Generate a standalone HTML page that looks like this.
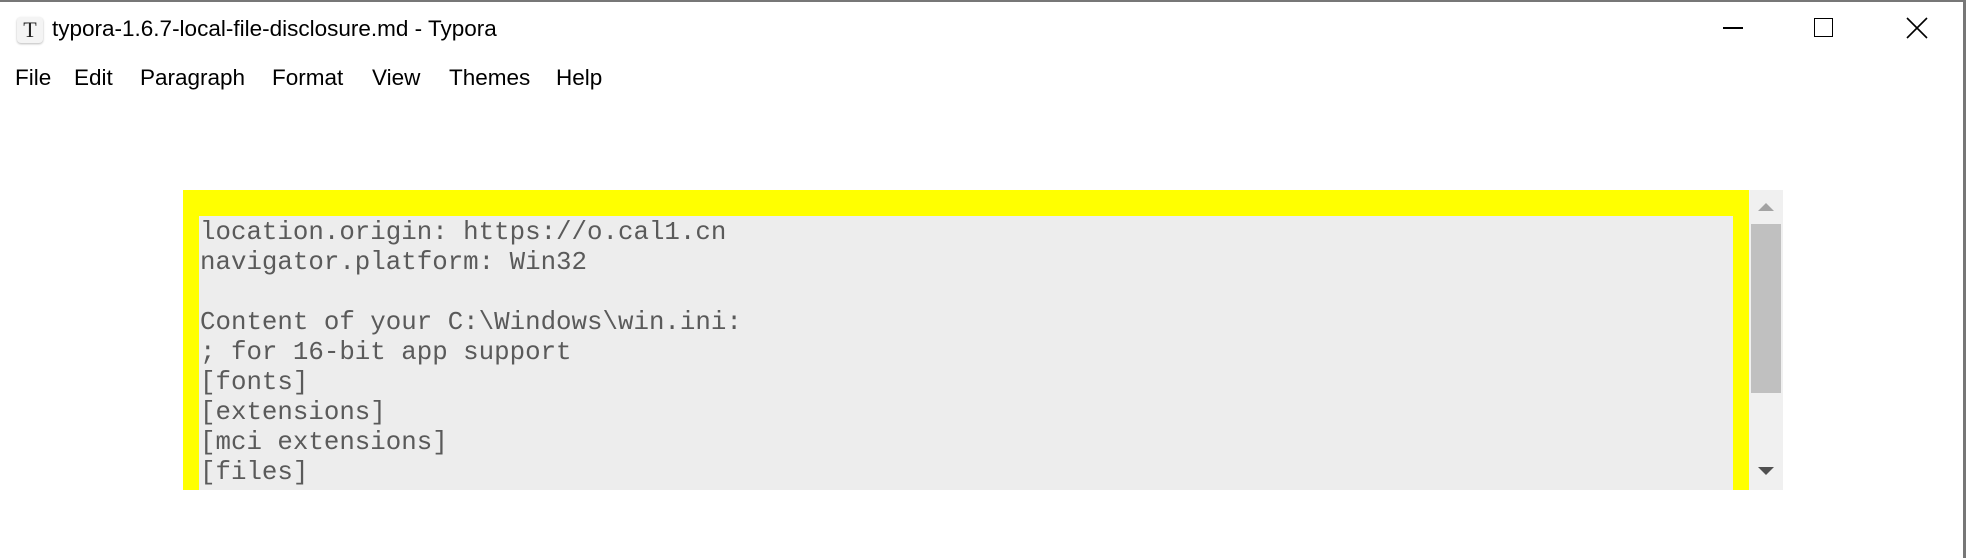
<!DOCTYPE html>
<html><head><meta charset="utf-8"><style>
html,body{margin:0;padding:0;}
body{width:1966px;height:558px;background:#fff;position:relative;overflow:hidden;font-family:"Liberation Sans",sans-serif;}
.abs{position:absolute;}
.menu span{position:absolute;top:65px;font-size:22.5px;color:#000;}
.code{position:absolute;left:199px;top:216px;width:1534px;height:274px;background:#ededed;overflow:hidden;}
.code pre{margin:0;padding-left:1px;padding-top:2px;font-family:"Liberation Mono",monospace;font-size:25.8px;line-height:30px;color:#5a5a5a;}
</style></head><body>
<div class="abs" style="left:0;top:0;width:1966px;height:2px;background:#777"></div>
<div class="abs" style="left:1963px;top:0;width:3px;height:558px;background:#777"></div>
<div class="abs" style="left:17px;top:17px;width:26px;height:26px;background:#f4f4f4;border-radius:4px;box-shadow:0 1px 2px #bbb;font-family:'Liberation Serif',serif;font-size:22px;text-align:center;line-height:26px;color:#222">T</div>
<div class="abs" style="left:52px;top:16px;font-size:22.5px;color:#000">typora-1.6.7-local-file-disclosure.md - Typora</div>
<div class="abs" style="left:1723px;top:27px;width:20px;height:1.5px;background:#000"></div>
<div class="abs" style="left:1814px;top:18px;width:17px;height:17px;border:1.5px solid #000"></div>
<svg class="abs" style="left:1906px;top:17px" width="22" height="22"><path d="M1 1L21 21M21 1L1 21" stroke="#000" stroke-width="1.6"/></svg>
<div class="menu">
<span style="left:15px">File</span><span style="left:74px">Edit</span><span style="left:140px">Paragraph</span><span style="left:272px">Format</span><span style="left:372px">View</span><span style="left:449px">Themes</span><span style="left:556px">Help</span>
</div>
<div class="abs" style="left:183px;top:190px;width:1566px;height:300px;background:#ffff00"></div>
<div class="code"><pre>location.origin: https://o.cal1.cn
navigator.platform: Win32

Content of your C:\Windows\win.ini:
; for 16-bit app support
[fonts]
[extensions]
[mci extensions]
[files]</pre></div>
<div class="abs" style="left:1749px;top:190px;width:34px;height:300px;background:#f0f0f0"></div>
<div class="abs" style="left:1751px;top:224px;width:30px;height:169px;background:#c0c0c0"></div>
<div class="abs" style="left:1758px;top:203px;width:0;height:0;border-left:8px solid transparent;border-right:8px solid transparent;border-bottom:8px solid #a3a3a3"></div>
<div class="abs" style="left:1758px;top:467px;width:0;height:0;border-left:8px solid transparent;border-right:8px solid transparent;border-top:8px solid #505050"></div>
</body></html>
